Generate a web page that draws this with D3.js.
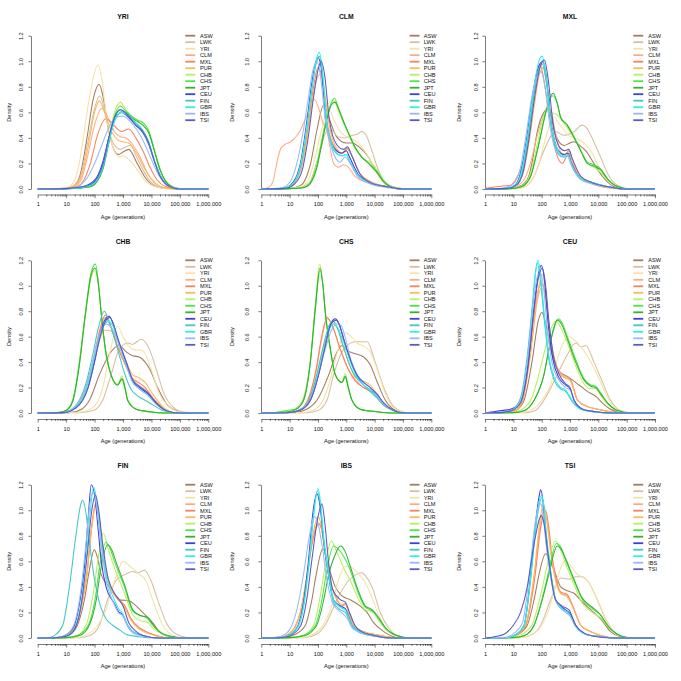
<!DOCTYPE html>
<html><head><meta charset="utf-8">
<script src="https://cdn.jsdelivr.net/npm/d3@7"></script>
<style>
body{margin:0;background:#fff}
svg{display:block}
text{font-family:"Liberation Sans",Arial,Helvetica,sans-serif;fill:#111}
</style>
</head><body>
<svg id="chart" width="681" height="681"></svg>
<script>
// ---------- categories / labels ----------
const populations = ["ASW","LWK","YRI","CLM","MXL","PUR","CHB","CHS","JPT","CEU","FIN","GBR","IBS","TSI"];
const populationColors = ["#A57B5C","#D6BE9E","#F4E2A6","#FFAA85","#F6845E","#FDB95A","#B8F060","#48E848","#34B034","#3E3EE0","#42C6C6","#2EEEEE","#96BAF8","#5A5AC0"];
const panelNames = ["YRI","CLM","MXL","CHB","CHS","CEU","FIN","IBS","TSI"];
const xTickValues = [1,10,100,1000,10000,100000,1000000];
const xTickLabels = ["1","10","100","1,000","10,000","100,000","1,000,000"];
const yTickValues = [0,0.2,0.4,0.6,0.8,1.0,1.2];
const yTickLabels = ["0.0","0.2","0.4","0.6","0.8","1.0","1.2"];
const xAxisTitle = "Age (generations)";
const yAxisTitle = "Density";

// ---------- densities: [age (generations), density] ----------
const densityYRI = {
ASW:[[1,0],[10,0.005],[20,0.03],[32,0.12],[56,0.42],[89,0.7],[145,0.82],[200,0.72],[316,0.45],[500,0.3],[690,0.27],[1000,0.29],[1585,0.31],[3162,0.2],[5623,0.1],[11220,0.03],[31623,0.005],[1e6,0]],
LWK:[[1,0],[10,0.005],[20,0.03],[32,0.1],[56,0.35],[100,0.63],[151,0.73],[224,0.62],[355,0.42],[562,0.33],[794,0.31],[1259,0.33],[1778,0.34],[3162,0.24],[5623,0.13],[11220,0.04],[31623,0.005],[1e6,0]],
YRI:[[1,0],[10,0.01],[18,0.05],[29,0.2],[40,0.4],[56,0.62],[80,0.82],[130,0.97],[180,0.86],[250,0.6],[355,0.4],[500,0.3],[710,0.25],[1000,0.26],[1600,0.23],[3200,0.15],[6300,0.06],[16000,0.015],[50000,0],[1e6,0]],
CLM:[[1,0],[10,0.005],[20,0.02],[32,0.06],[56,0.25],[100,0.5],[178,0.63],[282,0.57],[500,0.45],[794,0.41],[1259,0.4],[1995,0.36],[3981,0.25],[7079,0.13],[12589,0.05],[31623,0.01],[1e6,0]],
MXL:[[1,0],[10,0.005],[25,0.02],[40,0.06],[71,0.2],[126,0.42],[251,0.55],[398,0.52],[631,0.47],[891,0.45],[1585,0.47],[2818,0.4],[5012,0.3],[8913,0.17],[15849,0.07],[31623,0.02],[100000,0],[1e6,0]],
PUR:[[1,0],[10,0.005],[20,0.025],[32,0.08],[56,0.3],[100,0.6],[148,0.69],[224,0.6],[398,0.45],[708,0.38],[1000,0.37],[1585,0.36],[3162,0.27],[5623,0.16],[10000,0.08],[19953,0.02],[63096,0],[1e6,0]],
CHB:[[1,0],[10,0.002],[32,0.01],[79,0.03],[126,0.08],[200,0.2],[316,0.4],[500,0.6],[800,0.68],[1260,0.62],[2000,0.57],[3160,0.54],[5000,0.52],[8000,0.45],[12600,0.3],[20000,0.15],[31600,0.06],[56000,0.015],[130000,0],[1e6,0]],
CHS:[[1,0],[10,0.002],[32,0.008],[79,0.025],[126,0.07],[200,0.18],[316,0.38],[500,0.57],[800,0.65],[1260,0.61],[2000,0.57],[3160,0.54],[5000,0.52],[8000,0.46],[12600,0.31],[20000,0.16],[31600,0.06],[56000,0.015],[130000,0],[1e6,0]],
JPT:[[1,0],[10,0.002],[32,0.008],[79,0.02],[126,0.06],[200,0.16],[316,0.36],[500,0.55],[800,0.62],[1260,0.6],[2000,0.56],[3160,0.53],[5000,0.5],[8000,0.44],[12600,0.3],[20000,0.15],[31600,0.06],[56000,0.015],[130000,0],[1e6,0]],
CEU:[[1,0],[10,0.003],[32,0.015],[79,0.05],[126,0.1],[200,0.22],[316,0.4],[500,0.54],[890,0.6],[1580,0.56],[2800,0.5],[5000,0.44],[8000,0.35],[12600,0.22],[20000,0.11],[31600,0.04],[56000,0.01],[100000,0],[1e6,0]],
FIN:[[1,0],[10,0.002],[32,0.01],[79,0.03],[126,0.07],[200,0.17],[316,0.36],[500,0.53],[1000,0.61],[1580,0.58],[2800,0.52],[5000,0.46],[8000,0.37],[12600,0.23],[20000,0.11],[31600,0.04],[56000,0.01],[100000,0],[1e6,0]],
GBR:[[1,0],[10,0.002],[32,0.012],[79,0.035],[126,0.08],[200,0.19],[316,0.38],[500,0.53],[890,0.6],[1580,0.57],[2800,0.51],[5000,0.45],[8000,0.36],[12600,0.22],[20000,0.1],[31600,0.04],[56000,0.01],[100000,0],[1e6,0]],
IBS:[[1,0],[16,0.005],[32,0.03],[56,0.09],[100,0.2],[178,0.34],[316,0.48],[560,0.56],[1000,0.57],[1780,0.53],[3160,0.46],[5600,0.36],[10000,0.23],[17800,0.11],[31600,0.04],[63000,0.01],[200000,0],[1e6,0]],
TSI:[[1,0],[10,0.003],[32,0.015],[79,0.04],[126,0.09],[200,0.2],[316,0.4],[500,0.56],[800,0.62],[1580,0.57],[2800,0.5],[5000,0.45],[8000,0.36],[12600,0.22],[20000,0.1],[31600,0.04],[56000,0.01],[100000,0],[1e6,0]]
};
const densityCLM = {
ASW:[[1,0],[10,0.005],[25,0.03],[40,0.1],[55,0.2],[90,0.45],[160,0.66],[250,0.55],[450,0.41],[1000,0.36],[1600,0.36],[2800,0.33],[6000,0.25],[10500,0.15],[24000,0.05],[60000,0.01],[200000,0],[1e6,0]],
LWK:[[1,0],[20,0.01],[50,0.05],[75,0.15],[120,0.3],[200,0.45],[300,0.46],[500,0.41],[900,0.4],[1600,0.42],[2500,0.43],[3500,0.45],[5000,0.42],[8000,0.3],[12000,0.18],[20000,0.07],[40000,0.02],[100000,0],[1e6,0]],
YRI:[[1,0],[15,0.01],[40,0.05],[70,0.2],[120,0.42],[200,0.6],[250,0.62],[350,0.55],[600,0.45],[1000,0.41],[2000,0.38],[3500,0.33],[6000,0.25],[10000,0.15],[20000,0.05],[50000,0.01],[200000,0],[1e6,0]],
CLM:[[1,0],[1.7,0.01],[2.6,0.06],[3.5,0.2],[4.7,0.31],[7,0.35],[11,0.37],[20,0.43],[40,0.57],[75,0.7],[110,0.62],[150,0.52],[210,0.45],[280,0.3],[355,0.2],[540,0.17],[800,0.19],[1200,0.17],[2000,0.1],[5400,0.05],[15000,0.02],[50000,0.005],[1e6,0]],
MXL:[[1,0],[7,0.005],[15,0.05],[28,0.2],[45,0.48],[70,0.8],[100,0.95],[130,0.9],[200,0.55],[400,0.32],[700,0.28],[1100,0.32],[1500,0.27],[3000,0.12],[7000,0.06],[25000,0.02],[100000,0],[1e6,0]],
PUR:[[1,0],[7,0.005],[15,0.05],[28,0.2],[45,0.45],[70,0.75],[100,0.88],[125,0.9],[160,0.8],[250,0.5],[450,0.32],[750,0.28],[1100,0.31],[1500,0.27],[3000,0.12],[7000,0.06],[25000,0.02],[100000,0],[1e6,0]],
CHB:[[1,0],[10,0.003],[30,0.012],[50,0.045],[70,0.11],[95,0.22],[130,0.37],[200,0.56],[300,0.67],[360,0.69],[550,0.6],[900,0.49],[1300,0.41],[2000,0.32],[3500,0.25],[5500,0.22],[9000,0.19],[13000,0.14],[20000,0.07],[35000,0.02],[80000,0],[1e6,0]],
CHS:[[1,0],[10,0.003],[30,0.01],[50,0.04],[70,0.1],[95,0.2],[130,0.35],[200,0.55],[300,0.68],[380,0.71],[550,0.62],[900,0.5],[1300,0.42],[2000,0.33],[3500,0.25],[5500,0.21],[9000,0.17],[13000,0.13],[20000,0.07],[35000,0.02],[80000,0],[1e6,0]],
JPT:[[1,0],[10,0.003],[30,0.01],[50,0.035],[70,0.09],[95,0.18],[130,0.33],[200,0.53],[300,0.66],[400,0.68],[600,0.6],[900,0.5],[1300,0.42],[2000,0.33],[3500,0.25],[5500,0.21],[9000,0.16],[13000,0.12],[20000,0.06],[35000,0.02],[80000,0],[1e6,0]],
CEU:[[1,0],[6,0.005],[13,0.05],[24,0.2],[40,0.52],[60,0.82],[80,0.98],[100,1.03],[130,0.95],[200,0.5],[400,0.31],[700,0.28],[1000,0.3],[1300,0.25],[2700,0.11],[7000,0.05],[25000,0.02],[100000,0],[1e6,0]],
FIN:[[1,0],[6,0.005],[14,0.05],[26,0.2],[42,0.5],[63,0.8],[86,0.98],[112,1.04],[140,0.93],[210,0.5],[400,0.29],[700,0.26],[1000,0.27],[1300,0.22],[2700,0.1],[7000,0.05],[25000,0.02],[100000,0],[1e6,0]],
GBR:[[1,0],[6,0.005],[14,0.05],[25,0.2],[41,0.5],[62,0.8],[85,1.0],[112,1.07],[140,0.95],[210,0.5],[400,0.3],[700,0.26],[1000,0.27],[1300,0.22],[2700,0.1],[7000,0.05],[25000,0.02],[100000,0],[1e6,0]],
IBS:[[1,0],[5,0.01],[10,0.05],[18,0.2],[30,0.45],[45,0.7],[65,0.92],[90,1.0],[120,0.9],[180,0.55],[350,0.28],[600,0.21],[900,0.25],[1200,0.22],[2500,0.1],[7000,0.04],[25000,0.015],[100000,0],[1e6,0]],
TSI:[[1,0],[7,0.005],[15,0.04],[28,0.15],[45,0.4],[70,0.72],[100,0.93],[130,1.0],[170,0.9],[250,0.55],[450,0.35],[800,0.31],[1100,0.33],[1500,0.27],[3000,0.12],[7000,0.05],[25000,0.02],[100000,0],[1e6,0]]
};
const densityMXL = {
ASW:[[1,0],[8,0.005],[20,0.03],[35,0.1],[45,0.2],[70,0.45],[120,0.6],[180,0.63],[280,0.45],[615,0.34],[1000,0.36],[1380,0.37],[2500,0.33],[3550,0.3],[7000,0.2],[13800,0.1],[35000,0.02],[100000,0],[1e6,0]],
LWK:[[1,0],[15,0.005],[35,0.04],[54,0.1],[120,0.3],[310,0.45],[600,0.42],[1400,0.45],[2700,0.5],[3800,0.48],[6000,0.4],[12000,0.25],[24000,0.1],[47000,0.03],[150000,0],[1e6,0]],
YRI:[[1,0],[15,0.005],[40,0.05],[80,0.2],[150,0.43],[275,0.56],[450,0.5],[800,0.43],[1400,0.4],[2400,0.38],[5400,0.3],[12000,0.15],[27000,0.05],[70000,0.005],[1e6,0]],
CLM:[[1,0],[5,0.005],[12,0.02],[25,0.08],[40,0.2],[70,0.42],[120,0.58],[200,0.63],[300,0.45],[500,0.28],[700,0.27],[950,0.3],[1300,0.2],[2500,0.08],[6000,0.04],[20000,0.01],[100000,0],[1e6,0]],
MXL:[[1,0.005],[3,0.02],[8,0.03],[14,0.1],[28,0.3],[44,0.6],[70,0.9],[87,0.98],[110,0.9],[180,0.6],[310,0.3],[540,0.2],[700,0.24],[920,0.28],[1200,0.22],[1700,0.13],[3500,0.07],[9000,0.03],[30000,0.01],[100000,0],[1e6,0]],
PUR:[[1,0],[5,0.005],[12,0.03],[22,0.12],[35,0.35],[55,0.65],[80,0.88],[115,0.95],[150,0.82],[230,0.5],[400,0.3],[650,0.27],[900,0.3],[1200,0.22],[2500,0.08],[7000,0.04],[25000,0.01],[100000,0],[1e6,0]],
CHB:[[1,0],[8,0.003],[20,0.025],[40,0.12],[70,0.35],[120,0.58],[160,0.63],[220,0.6],[350,0.58],[500,0.54],[800,0.48],[1400,0.4],[2400,0.3],[4100,0.2],[7000,0.17],[12000,0.13],[21000,0.07],[47000,0.02],[150000,0],[1e6,0]],
CHS:[[1,0],[8,0.003],[20,0.02],[41,0.1],[70,0.3],[140,0.6],[200,0.71],[250,0.73],[350,0.67],[470,0.56],[800,0.5],[1400,0.41],[2400,0.3],[4100,0.21],[7000,0.19],[12000,0.16],[21000,0.08],[47000,0.02],[150000,0],[1e6,0]],
JPT:[[1,0],[8,0.003],[20,0.02],[41,0.1],[70,0.3],[140,0.6],[200,0.72],[257,0.75],[350,0.68],[470,0.56],[800,0.5],[1400,0.4],[2400,0.3],[4100,0.2],[7000,0.18],[12000,0.15],[21000,0.08],[47000,0.02],[150000,0],[1e6,0]],
CEU:[[1,0],[6,0.005],[12,0.035],[20,0.17],[32,0.45],[50,0.76],[75,0.95],[110,1.0],[145,0.88],[220,0.5],[380,0.3],[600,0.27],[850,0.28],[1100,0.21],[2200,0.09],[6000,0.05],[20000,0.02],[100000,0],[1e6,0]],
FIN:[[1,0],[6,0.005],[12,0.03],[21,0.14],[33,0.4],[52,0.72],[78,0.93],[105,0.98],[140,0.86],[220,0.48],[380,0.28],[600,0.25],[850,0.26],[1100,0.19],[2200,0.09],[6000,0.05],[20000,0.02],[100000,0],[1e6,0]],
GBR:[[1,0],[6,0.005],[12,0.03],[20,0.15],[32,0.42],[50,0.75],[75,0.98],[105,1.04],[140,0.9],[220,0.5],[380,0.3],[600,0.26],[850,0.27],[1100,0.2],[2200,0.09],[6000,0.05],[20000,0.02],[100000,0],[1e6,0]],
IBS:[[1,0],[5,0.01],[10,0.04],[18,0.17],[28,0.42],[45,0.72],[70,0.88],[95,0.92],[130,0.8],[200,0.48],[350,0.28],[560,0.25],[800,0.26],[1100,0.19],[2200,0.08],[6000,0.04],[20000,0.015],[100000,0],[1e6,0]],
TSI:[[1,0],[6,0.005],[13,0.03],[22,0.13],[35,0.38],[55,0.7],[85,0.94],[125,1.01],[165,0.88],[250,0.52],[420,0.33],[650,0.3],[900,0.31],[1200,0.24],[2400,0.1],[6000,0.05],[20000,0.02],[100000,0],[1e6,0]]
};
const densityCHB = {
ASW:[[1,0],[15,0.005],[35,0.03],[66,0.1],[148,0.3],[350,0.47],[740,0.53],[1300,0.48],[2200,0.45],[3750,0.44],[6000,0.4],[8500,0.35],[16500,0.2],[32000,0.08],[73000,0.02],[200000,0],[1e6,0]],
LWK:[[1,0],[30,0.003],[90,0.02],[193,0.1],[380,0.3],[740,0.5],[1450,0.55],[2200,0.54],[4300,0.58],[6000,0.56],[8500,0.5],[14500,0.35],[28000,0.15],[56000,0.05],[150000,0.005],[1e6,0]],
YRI:[[1,0],[25,0.003],[70,0.03],[150,0.12],[220,0.25],[330,0.45],[650,0.68],[1000,0.6],[2200,0.5],[4900,0.49],[9600,0.35],[19000,0.15],[43000,0.05],[120000,0.005],[1e6,0]],
CLM:[[1,0],[8,0.004],[20,0.04],[50,0.19],[90,0.4],[150,0.63],[240,0.75],[350,0.69],[650,0.52],[1200,0.38],[2200,0.26],[3500,0.22],[6000,0.18],[11000,0.12],[25000,0.04],[70000,0],[1e6,0]],
MXL:[[1,0],[8,0.004],[20,0.04],[50,0.2],[90,0.42],[150,0.65],[240,0.77],[350,0.7],[650,0.52],[1200,0.38],[2200,0.27],[3500,0.24],[6000,0.2],[11000,0.12],[25000,0.04],[70000,0],[1e6,0]],
PUR:[[1,0],[8,0.004],[20,0.04],[50,0.18],[90,0.38],[150,0.57],[220,0.65],[440,0.64],[700,0.55],[1200,0.42],[2200,0.3],[3500,0.28],[6000,0.24],[11000,0.15],[25000,0.05],[70000,0],[1e6,0]],
CHB:[[1,0],[5,0.003],[10,0.02],[17,0.1],[29,0.38],[48,0.77],[75,1.06],[100,1.12],[140,0.98],[169,0.8],[240,0.5],[380,0.3],[650,0.23],[920,0.29],[1200,0.2],[1450,0.11],[2900,0.03],[8500,0.01],[30000,0],[1e6,0]],
CHS:[[1,0],[5,0.003],[10,0.02],[17,0.1],[29,0.4],[48,0.8],[75,1.1],[107,1.17],[140,1.0],[169,0.8],[240,0.5],[380,0.3],[650,0.22],[920,0.26],[1200,0.18],[1450,0.1],[2900,0.03],[8500,0.01],[30000,0],[1e6,0]],
JPT:[[1,0],[5,0.003],[10,0.02],[17,0.09],[29,0.37],[48,0.78],[75,1.08],[104,1.14],[140,0.99],[169,0.8],[240,0.5],[380,0.3],[650,0.22],[920,0.27],[1200,0.19],[1450,0.1],[2900,0.03],[8500,0.01],[30000,0],[1e6,0]],
CEU:[[1,0],[8,0.003],[22,0.04],[57,0.2],[98,0.4],[148,0.6],[230,0.73],[330,0.76],[450,0.7],[650,0.58],[1270,0.4],[2200,0.25],[3750,0.2],[7400,0.15],[14500,0.08],[32000,0.02],[100000,0],[1e6,0]],
FIN:[[1,0],[8,0.005],[20,0.05],[48,0.22],[85,0.45],[140,0.68],[220,0.8],[300,0.74],[450,0.62],[650,0.5],[1100,0.32],[2000,0.18],[3500,0.13],[6000,0.1],[12000,0.06],[25000,0.02],[100000,0],[1e6,0]],
GBR:[[1,0],[8,0.004],[21,0.045],[55,0.2],[95,0.42],[150,0.6],[300,0.72],[450,0.68],[650,0.57],[1270,0.38],[2200,0.24],[3750,0.19],[7400,0.14],[14500,0.07],[32000,0.02],[100000,0],[1e6,0]],
IBS:[[1,0],[8,0.004],[20,0.05],[50,0.2],[90,0.42],[150,0.62],[250,0.7],[400,0.67],[650,0.56],[1270,0.38],[2200,0.24],[3750,0.19],[7400,0.14],[14500,0.07],[32000,0.02],[100000,0],[1e6,0]],
TSI:[[1,0],[8,0.003],[22,0.04],[60,0.2],[100,0.4],[150,0.58],[240,0.72],[340,0.75],[460,0.7],[650,0.59],[1270,0.41],[2200,0.26],[3750,0.21],[7400,0.16],[14500,0.08],[32000,0.02],[100000,0],[1e6,0]]
};
const densityCHS = {
ASW:[[1,0],[15,0.005],[40,0.03],[92,0.1],[240,0.3],[450,0.47],[700,0.53],[1100,0.49],[1820,0.47],[4100,0.44],[7000,0.38],[12000,0.25],[24000,0.1],[47000,0.03],[150000,0],[1e6,0]],
LWK:[[1,0],[40,0.003],[100,0.02],[208,0.1],[355,0.3],[810,0.5],[2100,0.56],[5400,0.56],[10500,0.4],[21000,0.2],[47000,0.05],[150000,0.003],[1e6,0]],
YRI:[[1,0],[30,0.003],[80,0.03],[150,0.1],[240,0.22],[470,0.47],[920,0.63],[1500,0.6],[2400,0.55],[4500,0.52],[7000,0.48],[12000,0.35],[24000,0.15],[47000,0.04],[150000,0],[1e6,0]],
CLM:[[1,0],[10,0.005],[25,0.03],[47,0.11],[87,0.33],[130,0.56],[220,0.74],[320,0.69],[615,0.5],[1200,0.34],[2100,0.26],[4100,0.2],[7000,0.17],[12000,0.12],[21000,0.06],[47000,0.02],[120000,0],[1e6,0]],
MXL:[[1,0],[10,0.005],[25,0.03],[47,0.12],[87,0.35],[130,0.58],[210,0.75],[300,0.7],[615,0.5],[1200,0.34],[2100,0.25],[4100,0.2],[7000,0.17],[12000,0.12],[21000,0.06],[47000,0.02],[120000,0],[1e6,0]],
PUR:[[1,0],[10,0.004],[25,0.025],[47,0.09],[87,0.28],[150,0.5],[250,0.66],[355,0.7],[500,0.66],[800,0.52],[1300,0.38],[2100,0.28],[4100,0.25],[7000,0.22],[12000,0.15],[21000,0.07],[47000,0.02],[120000,0],[1e6,0]],
CHB:[[1,0],[5,0.003],[12,0.02],[20,0.05],[31,0.12],[54,0.42],[80,0.85],[115,1.17],[150,1.0],[180,0.8],[275,0.5],[410,0.3],[700,0.24],[920,0.31],[1150,0.22],[1590,0.1],[3100,0.03],[12000,0.01],[40000,0],[1e6,0]],
CHS:[[1,0],[3,0.003],[8,0.02],[16,0.03],[31,0.1],[54,0.4],[80,0.8],[120,1.12],[150,1.0],[180,0.8],[275,0.5],[410,0.3],[700,0.24],[920,0.28],[1150,0.2],[1590,0.1],[3100,0.03],[12000,0.01],[40000,0],[1e6,0]],
JPT:[[1,0],[5,0.003],[12,0.015],[20,0.04],[31,0.1],[54,0.4],[80,0.82],[118,1.14],[150,1.0],[180,0.8],[275,0.5],[410,0.3],[700,0.24],[920,0.29],[1150,0.21],[1590,0.1],[3100,0.03],[12000,0.01],[40000,0],[1e6,0]],
CEU:[[1,0],[10,0.004],[25,0.025],[54,0.1],[105,0.3],[167,0.5],[280,0.7],[410,0.74],[550,0.7],[810,0.58],[1450,0.4],[2400,0.29],[4100,0.22],[7000,0.18],[12000,0.14],[21000,0.07],[47000,0.02],[120000,0],[1e6,0]],
FIN:[[1,0],[10,0.004],[25,0.03],[50,0.11],[95,0.32],[155,0.53],[260,0.7],[340,0.72],[480,0.67],[760,0.53],[1400,0.36],[2400,0.27],[4100,0.22],[7000,0.17],[12000,0.12],[21000,0.06],[47000,0.02],[120000,0],[1e6,0]],
GBR:[[1,0],[10,0.004],[25,0.03],[52,0.1],[100,0.3],[165,0.5],[270,0.67],[360,0.7],[500,0.67],[800,0.56],[1450,0.39],[2400,0.28],[4100,0.22],[7000,0.18],[12000,0.13],[21000,0.07],[47000,0.02],[120000,0],[1e6,0]],
IBS:[[1,0],[10,0.004],[25,0.03],[52,0.1],[100,0.29],[170,0.48],[300,0.65],[450,0.7],[650,0.69],[900,0.6],[1450,0.42],[2400,0.3],[4100,0.24],[7000,0.2],[12000,0.14],[21000,0.07],[47000,0.02],[120000,0],[1e6,0]],
TSI:[[1,0],[10,0.004],[25,0.025],[54,0.1],[105,0.3],[170,0.5],[290,0.7],[430,0.73],[580,0.69],[810,0.58],[1450,0.41],[2400,0.3],[4100,0.24],[7000,0.2],[12000,0.15],[21000,0.08],[47000,0.02],[120000,0],[1e6,0]]
};
const densityCEU = {
ASW:[[1,0],[6,0.004],[14,0.03],[24,0.1],[47,0.42],[75,0.72],[102,0.79],[140,0.7],[208,0.5],[410,0.33],[920,0.28],[2100,0.22],[4100,0.17],[8100,0.13],[13800,0.08],[27000,0.03],[80000,0],[1e6,0]],
LWK:[[1,0],[30,0.003],[60,0.02],[120,0.1],[355,0.3],[810,0.46],[1590,0.55],[2500,0.52],[3600,0.53],[7000,0.4],[12000,0.28],[27000,0.1],[60000,0.02],[200000,0],[1e6,0]],
YRI:[[1,0],[20,0.003],[50,0.03],[100,0.1],[208,0.22],[355,0.42],[600,0.56],[920,0.6],[1500,0.57],[2400,0.52],[4100,0.45],[9200,0.3],[24000,0.1],[50000,0.02],[200000,0],[1e6,0]],
CLM:[[1,0],[5,0.004],[12,0.02],[21,0.09],[41,0.47],[70,0.88],[110,1.0],[145,0.9],[185,0.68],[240,0.5],[470,0.31],[810,0.28],[1050,0.26],[1400,0.18],[1820,0.1],[4100,0.05],[9200,0.03],[25000,0.01],[100000,0],[1e6,0]],
MXL:[[1,0],[5,0.004],[12,0.02],[21,0.1],[41,0.52],[70,0.93],[97,1.02],[135,0.92],[180,0.68],[240,0.48],[470,0.3],[810,0.27],[1050,0.26],[1400,0.18],[1820,0.1],[4100,0.05],[9200,0.03],[25000,0.01],[100000,0],[1e6,0]],
PUR:[[1,0],[5,0.004],[12,0.02],[21,0.1],[41,0.5],[70,0.92],[105,1.09],[140,0.95],[180,0.7],[240,0.5],[470,0.3],[810,0.27],[1050,0.25],[1400,0.17],[1820,0.1],[4100,0.05],[9200,0.03],[25000,0.01],[100000,0],[1e6,0]],
CHB:[[1,0],[8,0.004],[20,0.03],[45,0.12],[90,0.35],[150,0.55],[230,0.68],[320,0.72],[500,0.66],[810,0.55],[1590,0.37],[3100,0.23],[5400,0.19],[8100,0.19],[12000,0.14],[21000,0.07],[47000,0.02],[150000,0],[1e6,0]],
CHS:[[1,0],[10,0.003],[25,0.02],[54,0.1],[120,0.3],[180,0.5],[275,0.68],[400,0.74],[550,0.7],[810,0.6],[1590,0.42],[3100,0.27],[5400,0.22],[8100,0.21],[12000,0.16],[21000,0.08],[47000,0.02],[150000,0],[1e6,0]],
JPT:[[1,0],[10,0.003],[25,0.02],[54,0.1],[120,0.3],[180,0.5],[275,0.67],[355,0.73],[500,0.7],[810,0.58],[1590,0.4],[3100,0.26],[5400,0.21],[8100,0.2],[12000,0.15],[21000,0.08],[47000,0.02],[150000,0],[1e6,0]],
CEU:[[1,0],[2,0.01],[4,0.02],[8,0.03],[14,0.06],[22,0.15],[35,0.42],[55,0.85],[75,1.08],[97,1.16],[125,1.05],[170,0.7],[250,0.42],[400,0.28],[700,0.22],[1000,0.19],[1400,0.1],[2800,0.03],[8000,0.01],[30000,0],[1e6,0]],
FIN:[[1,0],[4,0.005],[9,0.025],[18,0.12],[31,0.45],[47,0.85],[60,1.1],[70,1.18],[90,1.05],[125,0.72],[180,0.42],[275,0.26],[470,0.19],[700,0.17],[1200,0.09],[2400,0.03],[7000,0.01],[30000,0],[1e6,0]],
GBR:[[1,0],[4,0.005],[9,0.02],[18,0.1],[31,0.4],[47,0.8],[61,1.1],[74,1.2],[95,1.05],[127,0.75],[180,0.45],[275,0.28],[470,0.2],[700,0.18],[1200,0.1],[2400,0.03],[7000,0.01],[30000,0],[1e6,0]],
IBS:[[1,0],[4,0.005],[9,0.02],[18,0.1],[31,0.4],[50,0.85],[70,1.07],[88,1.1],[115,1.0],[160,0.65],[230,0.4],[380,0.27],[700,0.2],[1000,0.18],[1400,0.1],[2800,0.03],[8000,0.01],[30000,0],[1e6,0]],
TSI:[[1,0],[4,0.005],[9,0.02],[18,0.08],[30,0.3],[50,0.75],[75,1.05],[105,1.14],[135,1.02],[180,0.72],[260,0.45],[420,0.3],[700,0.23],[1000,0.2],[1400,0.1],[2800,0.03],[8000,0.01],[30000,0],[1e6,0]]
};
const densityFIN = {
ASW:[[1,0],[6,0.004],[14,0.03],[25,0.1],[44,0.3],[62,0.5],[98,0.69],[130,0.62],[168,0.5],[330,0.4],[740,0.3],[1660,0.29],[4900,0.2],[11000,0.12],[19000,0.05],[45000,0.01],[150000,0],[1e6,0]],
LWK:[[1,0],[30,0.003],[70,0.02],[148,0.1],[290,0.3],[570,0.45],[1260,0.5],[2200,0.52],[3300,0.51],[5600,0.53],[9600,0.45],[16500,0.3],[37000,0.1],[95000,0.02],[300000,0],[1e6,0]],
YRI:[[1,0],[25,0.003],[60,0.03],[130,0.1],[252,0.22],[434,0.4],[740,0.55],[980,0.6],[1800,0.56],[3700,0.5],[6400,0.45],[11000,0.3],[25000,0.1],[60000,0.02],[200000,0],[1e6,0]],
CLM:[[1,0],[6,0.004],[13,0.03],[22,0.1],[35,0.27],[53,0.5],[81,0.9],[107,1.05],[140,0.95],[180,0.72],[252,0.5],[500,0.35],[740,0.3],[1120,0.25],[1900,0.15],[3700,0.08],[6400,0.05],[14500,0.02],[50000,0],[1e6,0]],
MXL:[[1,0],[6,0.004],[13,0.03],[23,0.1],[37,0.28],[55,0.52],[83,0.9],[110,1.04],[145,0.93],[185,0.7],[260,0.5],[500,0.34],[740,0.29],[1120,0.26],[1900,0.15],[3700,0.08],[6400,0.05],[14500,0.02],[50000,0],[1e6,0]],
PUR:[[1,0],[6,0.004],[13,0.03],[22,0.1],[35,0.26],[53,0.48],[80,0.87],[110,1.03],[145,0.92],[185,0.7],[252,0.5],[500,0.34],[740,0.3],[1120,0.24],[1900,0.14],[3700,0.07],[6400,0.04],[14500,0.015],[50000,0],[1e6,0]],
CHB:[[1,0],[10,0.003],[25,0.02],[50,0.1],[90,0.35],[140,0.65],[204,0.82],[280,0.72],[500,0.55],[1120,0.35],[2200,0.18],[3700,0.14],[7400,0.12],[11000,0.08],[19000,0.04],[43000,0.01],[150000,0],[1e6,0]],
CHS:[[1,0],[10,0.003],[25,0.02],[60,0.1],[107,0.32],[150,0.56],[252,0.75],[350,0.7],[500,0.6],[1120,0.4],[2200,0.21],[3700,0.18],[7400,0.15],[11000,0.1],[19000,0.05],[43000,0.015],[150000,0],[1e6,0]],
JPT:[[1,0],[10,0.003],[30,0.02],[65,0.1],[115,0.3],[160,0.52],[290,0.73],[400,0.69],[600,0.58],[1120,0.42],[2200,0.22],[3700,0.18],[7400,0.16],[11000,0.11],[19000,0.05],[43000,0.015],[150000,0],[1e6,0]],
CEU:[[1,0],[5,0.004],[11,0.03],[19.5,0.1],[30,0.28],[44,0.55],[60,0.95],[77,1.2],[100,1.12],[130,0.88],[168,0.62],[252,0.4],[500,0.27],[740,0.2],[930,0.19],[1450,0.1],[2200,0.05],[4900,0.02],[20000,0],[1e6,0]],
FIN:[[1,0],[2.5,0.003],[3.9,0.02],[7.6,0.1],[13,0.4],[22,0.8],[33,1.05],[38,1.08],[48,1.0],[62,0.8],[93,0.5],[139,0.3],[252,0.15],[434,0.1],[570,0.08],[800,0.06],[1260,0.03],[3700,0.01],[15000,0],[1e6,0]],
GBR:[[1,0],[5,0.004],[12,0.02],[22,0.1],[35,0.3],[50,0.6],[70,0.98],[93,1.18],[120,1.07],[168,0.8],[252,0.5],[500,0.3],[740,0.22],[930,0.2],[1450,0.1],[2200,0.05],[4900,0.02],[20000,0],[1e6,0]],
IBS:[[1,0],[5,0.005],[11,0.03],[20,0.12],[32,0.35],[48,0.7],[68,1.05],[88,1.14],[115,1.05],[160,0.78],[240,0.48],[480,0.27],[740,0.19],[930,0.18],[1450,0.09],[2200,0.04],[4900,0.015],[20000,0],[1e6,0]],
TSI:[[1,0],[5,0.004],[12,0.02],[22,0.09],[35,0.28],[55,0.65],[80,1.0],[107,1.12],[140,1.0],[190,0.75],[280,0.5],[500,0.35],[740,0.3],[1000,0.25],[1600,0.12],[2600,0.06],[5000,0.02],[20000,0],[1e6,0]]
};
const densityIBS = {
ASW:[[1,0],[6,0.004],[16,0.03],[36,0.1],[61,0.3],[87,0.5],[150,0.7],[210,0.6],[410,0.4],[700,0.33],[1380,0.3],[3100,0.25],[5400,0.2],[9200,0.12],[21000,0.05],[50000,0.01],[200000,0],[1e6,0]],
LWK:[[1,0],[30,0.003],[90,0.03],[200,0.12],[470,0.3],[1200,0.45],[2400,0.5],[3550,0.51],[5000,0.48],[8100,0.4],[15800,0.2],[31000,0.08],[80000,0.01],[300000,0],[1e6,0]],
YRI:[[1,0],[25,0.003],[70,0.03],[150,0.1],[275,0.22],[470,0.42],[920,0.56],[1600,0.55],[2750,0.5],[4500,0.44],[7000,0.35],[15800,0.15],[35000,0.04],[100000,0],[1e6,0]],
CLM:[[1,0],[4,0.005],[9,0.03],[15,0.08],[24,0.2],[41,0.48],[65,0.78],[105,0.9],[135,0.85],[175,0.68],[245,0.49],[470,0.3],[700,0.25],[920,0.26],[1300,0.18],[1820,0.1],[5400,0.04],[9200,0.03],[27000,0.01],[100000,0],[1e6,0]],
MXL:[[1,0],[4,0.005],[9,0.03],[15,0.08],[24,0.2],[41,0.48],[65,0.76],[110,0.89],[140,0.83],[180,0.66],[250,0.48],[470,0.3],[700,0.25],[920,0.27],[1300,0.18],[1820,0.1],[5400,0.04],[9200,0.03],[27000,0.01],[100000,0],[1e6,0]],
PUR:[[1,0],[4,0.005],[9,0.03],[15,0.08],[24,0.2],[41,0.5],[65,0.8],[100,0.95],[130,0.88],[170,0.7],[240,0.5],[470,0.3],[700,0.26],[920,0.27],[1300,0.18],[1820,0.1],[5400,0.04],[9200,0.03],[27000,0.01],[100000,0],[1e6,0]],
CHB:[[1,0],[10,0.003],[30,0.02],[70,0.1],[125,0.35],[190,0.6],[295,0.76],[450,0.68],[800,0.55],[1380,0.45],[2750,0.3],[4700,0.22],[7000,0.21],[9200,0.2],[13800,0.14],[24000,0.07],[61000,0.02],[200000,0],[1e6,0]],
CHS:[[1,0],[10,0.003],[30,0.02],[81,0.1],[138,0.3],[195,0.5],[355,0.72],[500,0.7],[800,0.64],[1380,0.53],[2750,0.34],[4700,0.24],[7000,0.22],[9200,0.2],[13800,0.15],[24000,0.08],[61000,0.02],[200000,0],[1e6,0]],
JPT:[[1,0],[10,0.003],[35,0.02],[90,0.1],[160,0.3],[240,0.5],[400,0.65],[615,0.72],[900,0.68],[1380,0.56],[2750,0.36],[4700,0.25],[7000,0.23],[9200,0.21],[13800,0.16],[24000,0.08],[61000,0.02],[200000,0],[1e6,0]],
CEU:[[1,0],[5,0.004],[11,0.03],[20,0.1],[32,0.3],[46,0.6],[68,1.0],[92,1.13],[120,1.02],[155,0.78],[240,0.48],[355,0.3],[615,0.25],[920,0.23],[1590,0.1],[3100,0.05],[9200,0.02],[40000,0],[1e6,0]],
FIN:[[1,0],[5,0.004],[11,0.03],[21,0.1],[33,0.29],[47,0.57],[70,0.97],[96,1.15],[122,1.04],[157,0.78],[240,0.48],[355,0.28],[615,0.22],[920,0.2],[1590,0.09],[3100,0.04],[9200,0.015],[40000,0],[1e6,0]],
GBR:[[1,0],[5,0.004],[11,0.03],[21,0.1],[33,0.28],[47,0.55],[70,0.95],[100,1.17],[125,1.05],[158,0.8],[240,0.5],[355,0.3],[615,0.24],[920,0.22],[1590,0.1],[3100,0.05],[9200,0.02],[40000,0],[1e6,0]],
IBS:[[1,0],[3,0.004],[7,0.03],[12,0.1],[18,0.22],[31,0.5],[50,0.8],[74,0.95],[100,0.9],[140,0.72],[210,0.45],[320,0.28],[500,0.22],[750,0.19],[1100,0.15],[1590,0.08],[3100,0.04],[9200,0.015],[40000,0],[1e6,0]],
TSI:[[1,0],[6,0.004],[13,0.03],[25,0.1],[40,0.3],[60,0.6],[95,0.92],[138,1.05],[175,0.9],[230,0.62],[330,0.38],[615,0.3],[920,0.28],[1300,0.2],[2000,0.1],[3500,0.05],[9200,0.02],[40000,0],[1e6,0]]
};
const densityTSI = {
ASW:[[1,0],[6,0.004],[15,0.03],[31,0.1],[54,0.3],[81,0.5],[138,0.66],[200,0.6],[310,0.5],[470,0.4],[810,0.37],[1380,0.35],[2750,0.28],[5400,0.22],[12000,0.15],[27000,0.05],[60000,0.01],[200000,0],[1e6,0]],
LWK:[[1,0],[15,0.003],[40,0.02],[92,0.1],[208,0.3],[470,0.47],[920,0.46],[1590,0.48],[2750,0.48],[4100,0.45],[9200,0.3],[18000,0.15],[35000,0.05],[100000,0.005],[1e6,0]],
YRI:[[1,0],[20,0.003],[50,0.03],[100,0.1],[180,0.22],[310,0.42],[700,0.61],[1100,0.56],[1820,0.5],[4100,0.45],[9200,0.3],[24000,0.1],[50000,0.02],[200000,0],[1e6,0]],
CLM:[[1,0],[6,0.004],[14,0.03],[27,0.1],[55,0.48],[90,0.9],[125,1.0],[165,0.88],[220,0.65],[290,0.5],[470,0.35],[810,0.33],[1200,0.26],[2400,0.1],[5400,0.05],[12000,0.02],[50000,0],[1e6,0]],
MXL:[[1,0],[6,0.004],[15,0.03],[28,0.1],[58,0.48],[95,0.88],[138,1.0],[175,0.88],[230,0.65],[300,0.5],[470,0.36],[810,0.34],[1200,0.26],[2400,0.1],[5400,0.05],[12000,0.02],[50000,0],[1e6,0]],
PUR:[[1,0],[6,0.004],[14,0.03],[27,0.1],[54,0.5],[85,0.9],[115,1.05],[150,0.92],[200,0.7],[275,0.5],[470,0.35],[810,0.32],[1200,0.25],[2400,0.1],[5400,0.05],[12000,0.02],[50000,0],[1e6,0]],
CHB:[[1,0],[8,0.004],[20,0.03],[45,0.1],[95,0.35],[170,0.6],[310,0.76],[450,0.7],[700,0.58],[1380,0.42],[2750,0.27],[4700,0.22],[7000,0.19],[12000,0.16],[21000,0.09],[47000,0.03],[150000,0],[1e6,0]],
CHS:[[1,0],[10,0.003],[25,0.02],[54,0.1],[105,0.31],[180,0.53],[330,0.74],[480,0.71],[700,0.61],[1380,0.45],[2750,0.3],[4700,0.25],[7000,0.22],[12000,0.18],[21000,0.1],[47000,0.03],[150000,0],[1e6,0]],
JPT:[[1,0],[10,0.003],[25,0.02],[54,0.1],[105,0.3],[180,0.5],[355,0.72],[500,0.69],[700,0.62],[1380,0.46],[2750,0.31],[4700,0.26],[7000,0.23],[12000,0.18],[21000,0.1],[47000,0.03],[150000,0],[1e6,0]],
CEU:[[1,0],[6,0.004],[13,0.03],[24,0.1],[41,0.5],[61,0.9],[80,1.1],[92,1.16],[110,1.08],[138,0.8],[208,0.5],[310,0.3],[470,0.25],[700,0.22],[920,0.2],[1590,0.1],[3550,0.03],[12000,0.01],[50000,0],[1e6,0]],
FIN:[[1,0],[6,0.004],[13,0.03],[24,0.1],[42,0.48],[62,0.86],[82,1.04],[100,1.1],[120,1.03],[148,0.8],[215,0.5],[310,0.3],[470,0.24],[700,0.21],[920,0.19],[1590,0.09],[3550,0.03],[12000,0.01],[50000,0],[1e6,0]],
GBR:[[1,0],[6,0.004],[13,0.03],[24,0.1],[41,0.48],[61,0.87],[80,1.06],[98,1.12],[118,1.04],[145,0.8],[210,0.5],[310,0.3],[470,0.24],[700,0.21],[920,0.19],[1590,0.09],[3550,0.03],[12000,0.01],[50000,0],[1e6,0]],
IBS:[[1,0],[5,0.005],[11,0.04],[21,0.12],[37,0.5],[57,0.88],[75,1.02],[92,1.05],[112,0.98],[140,0.75],[205,0.48],[310,0.29],[470,0.23],[700,0.2],[920,0.18],[1590,0.09],[3550,0.03],[12000,0.01],[50000,0],[1e6,0]],
TSI:[[1,0],[1.5,0.003],[2.1,0.01],[4.7,0.03],[10,0.1],[18,0.2],[31,0.4],[43,0.6],[61,0.8],[80,0.92],[97,0.96],[125,0.88],[180,0.6],[310,0.3],[535,0.25],[920,0.22],[1590,0.1],[3100,0.04],[9000,0.01],[40000,0],[1e6,0]]
};
const panelDensities = [densityYRI, densityCLM, densityMXL, densityCHB, densityCHS, densityCEU, densityFIN, densityIBS, densityTSI];

// ---------- layout ----------
const colLayout = [
  {x0:37.7, x1:208.3, yAxisX:31,  tickLabX:21,  yTitleX:9,   leg0:185.3, leg1:195.2, legText:200},
  {x0:261.3,x1:431.3, yAxisX:261, tickLabX:247, yTitleX:232, leg0:409.7, leg1:419.5, legText:423.7},
  {x0:485,  x1:655,   yAxisX:485, tickLabX:476, yTitleX:459, leg0:633.3, leg1:643.2, legText:648.3}
];
const rowLayout = [
  {yTop:35.7,  yBot:189, xAxisY:194.5},
  {yTop:260.3, yBot:413, xAxisY:419},
  {yTop:484.7, yBot:638, xAxisY:644}
];
const legendStep = 6.5;
const fontSmall = 5.6;

const svg = d3.select("#chart");
svg.append("rect").attr("width",681).attr("height",681).attr("fill","#fff");

// minor tick positions (2..9 within each decade)
const minorTicks = [];
d3.range(0,6).forEach(d => d3.range(2,10).forEach(k => minorTicks.push(k*Math.pow(10,d))));

panelNames.forEach((name, i) => {
  const c = colLayout[i % 3], r = rowLayout[Math.floor(i / 3)];
  const x = d3.scaleLog().domain([1, 1e6]).range([c.x0, c.x1]);
  const y = d3.scaleLinear().domain([0, 1.2]).range([r.yBot, r.yTop]);
  const g = svg.append("g");
  const xMid = (c.x0 + c.x1) / 2;

  // title
  g.append("text").attr("x", xMid).attr("y", r.yTop - 19).attr("text-anchor","middle")
    .attr("dominant-baseline","central").attr("font-size", 6.8).attr("font-weight","bold").text(name);

  // x axis (major + minor)
  const xAxis = d3.axisBottom(x).tickValues(xTickValues).tickFormat((d, k) => xTickLabels[k])
    .tickSize(3.6).tickSizeOuter(0).tickPadding(4.2);
  const gx = g.append("g").attr("transform", `translate(0,${r.xAxisY})`).call(xAxis);
  gx.selectAll("text").attr("font-size", fontSmall).attr("fill","#111").attr("font-family",'"Liberation Sans",Arial,sans-serif');
  const gxm = g.append("g").attr("transform", `translate(0,${r.xAxisY})`)
    .call(d3.axisBottom(x).tickValues(minorTicks).tickFormat("").tickSize(2).tickSizeOuter(0));
  gxm.select(".domain").remove();
  [gx, gxm].forEach(a => { a.selectAll("line").attr("stroke","#222").attr("stroke-width",0.6);
                           a.selectAll(".domain").attr("stroke","#222").attr("stroke-width",0.6); });

  // x axis title
  g.append("text").attr("x", xMid).attr("y", r.yBot + 27.7).attr("text-anchor","middle")
    .attr("dominant-baseline","central").attr("font-size", fontSmall).text(xAxisTitle);

  // y axis
  const yAxis = d3.axisLeft(y).tickValues(yTickValues).tickFormat((d, k) => yTickLabels[k])
    .tickSize(2.6).tickSizeOuter(0);
  const gy = g.append("g").attr("transform", `translate(${c.yAxisX},0)`).call(yAxis);
  gy.selectAll("line").attr("stroke","#222").attr("stroke-width",0.6);
  gy.select(".domain").attr("stroke","#222").attr("stroke-width",0.6);
  gy.selectAll("text")
    .attr("x", 0).attr("dy", null)
    .attr("transform", `translate(${c.tickLabX - c.yAxisX},0) rotate(-90)`)
    .attr("text-anchor","middle").attr("dominant-baseline","central")
    .attr("font-size", fontSmall).attr("fill","#111").attr("font-family",'"Liberation Sans",Arial,sans-serif');

  // y axis title
  const yMid = (r.yTop + r.yBot) / 2;
  g.append("text").attr("transform", `translate(${c.yTitleX},${yMid}) rotate(-90)`)
    .attr("text-anchor","middle").attr("dominant-baseline","central")
    .attr("font-size", fontSmall).text(yAxisTitle);

  // curves
  const line = d3.line().x(d => x(d[0])).y(d => y(d[1])).curve(d3.curveMonotoneX);
  const data = panelDensities[i];
  populations.forEach((p, j) => {
    if (!data[p]) return;
    g.append("path").attr("d", line(data[p])).attr("fill","none")
      .attr("stroke", populationColors[j]).attr("stroke-width", 1.05)
      .attr("stroke-linejoin","round");
  });

  // legend
  populations.forEach((p, j) => {
    const ly = r.yTop + j * legendStep;
    g.append("line").attr("x1", c.leg0).attr("x2", c.leg1).attr("y1", ly).attr("y2", ly)
      .attr("stroke", populationColors[j]).attr("stroke-width", 1.8);
    g.append("text").attr("x", c.legText).attr("y", ly).attr("dominant-baseline","central")
      .attr("font-size", fontSmall).attr("fill","#222").text(p);
  });
});
</script>
</body></html>
